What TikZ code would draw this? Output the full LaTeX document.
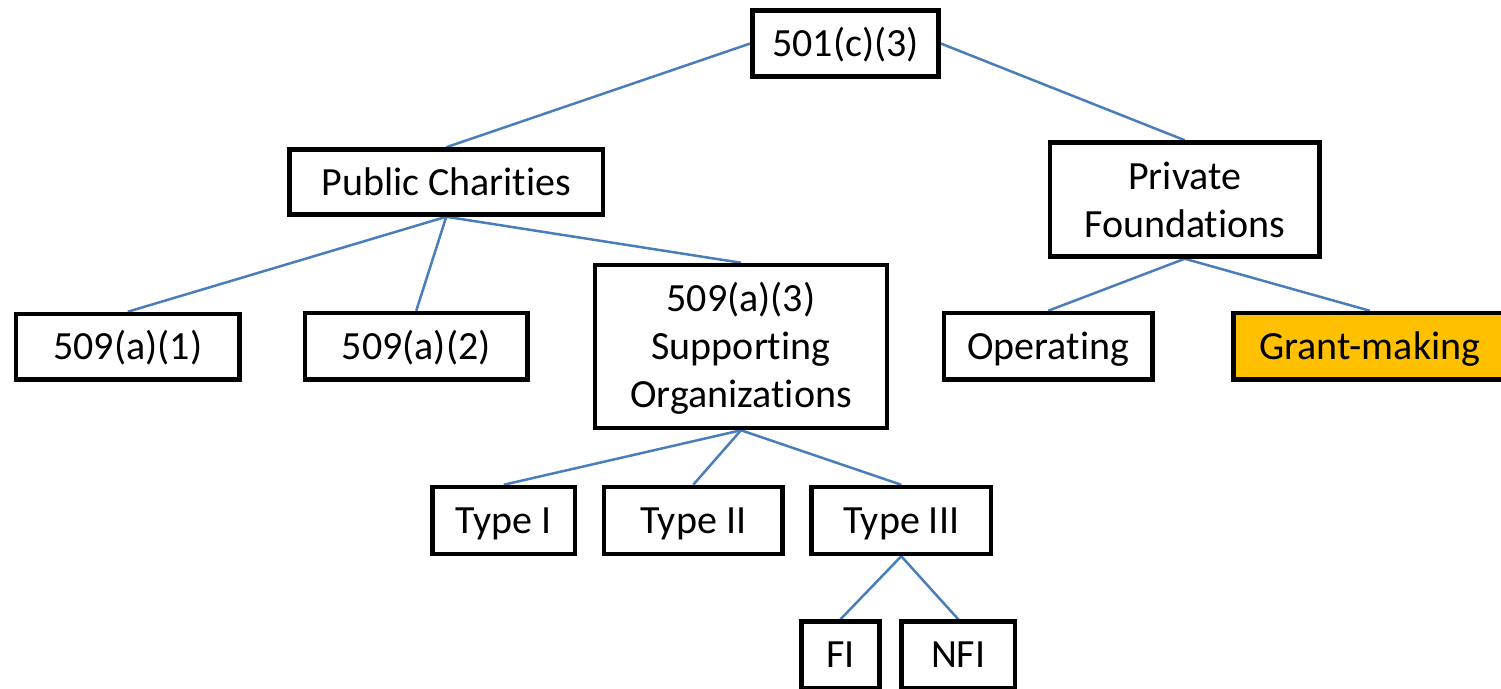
\documentclass[tikz,border=0pt]{standalone}
\usepackage{fontspec}
\setmainfont{Carlito}[Ligatures={NoCommon}]
\usetikzlibrary{backgrounds}
\definecolor{linkblue}{HTML}{4A7EBB}
\definecolor{grantorange}{HTML}{FFC000}
\tikzset{
  box/.style={draw=black, line width=4.5pt, rectangle, inner sep=0pt, align=center,
    font=\fontsize{40}{48}\selectfont, fill=white},
  onebox/.style={box, text height=26pt, text depth=0pt},
  link/.style={draw=linkblue, line width=2.5pt}
}
\begin{document}
\begin{tikzpicture}[x=1pt,y=-1pt]
\useasboundingbox (0,0) rectangle (1501,688);
\node[onebox, minimum width=186pt, minimum height=66pt] (c3) at (845.5,43.5) {501(c)(3)};
\node[onebox, minimum width=313.5pt, minimum height=65pt] (pc) at (446.25,182) {Public Charities};
\node[box, minimum width=269.5pt, minimum height=114pt] (pf) at (1184.75,199.5) {Private\\Foundations};
\node[onebox, minimum width=223.5pt, minimum height=65.5pt] (a1) at (127.75,346.75) {509(a)(1)};
\node[onebox, minimum width=222.5pt, minimum height=66.5pt] (a2) at (416.25,346.25) {509(a)(2)};
\node[box, minimum width=292pt, minimum height=163pt] (a3) at (741,346.5) {\rule{0pt}{33pt}509(a)(3)\\Supporting\\Organizations};
\node[onebox, minimum width=208.5pt, minimum height=66.5pt] (op) at (1048.25,346.25) {Operating};
\node[onebox, fill=grantorange, minimum width=272.5pt, minimum height=66.5pt] (gm) at (1369.75,346.25) {Grant-making};
\node[onebox, minimum width=142.5pt, minimum height=67pt] (t1) at (503.75,520.5) {Type I};
\node[onebox, minimum width=178.5pt, minimum height=67pt] (t2) at (693.25,520.5) {Type II};
\node[onebox, minimum width=179.5pt, minimum height=67pt] (t3) at (901.25,520.5) {Type III};
\node[onebox, minimum width=78pt, minimum height=66.5pt] (fi) at (840.5,654.75) {FI};
\node[onebox, minimum width=113.5pt, minimum height=66.5pt] (nfi) at (958.25,654.75) {NFI};
\begin{scope}[on background layer]
\draw[link] (c3.west) -- (pc.north);
\draw[link] (c3.east) -- (pf.north);
\draw[link] (pc.south) -- (a1.north);
\draw[link] (pc.south) -- (a2.north);
\draw[link] (pc.south) -- (a3.north);
\draw[link] (pf.south) -- (op.north);
\draw[link] (pf.south) -- (gm.north);
\draw[link] (a3.south) -- (t1.north);
\draw[link] (a3.south) -- (t2.north);
\draw[link] (a3.south) -- (t3.north);
\draw[link] (t3.south) -- (fi.north);
\draw[link] (t3.south) -- (nfi.north);
\end{scope}
\end{tikzpicture}
\end{document}
